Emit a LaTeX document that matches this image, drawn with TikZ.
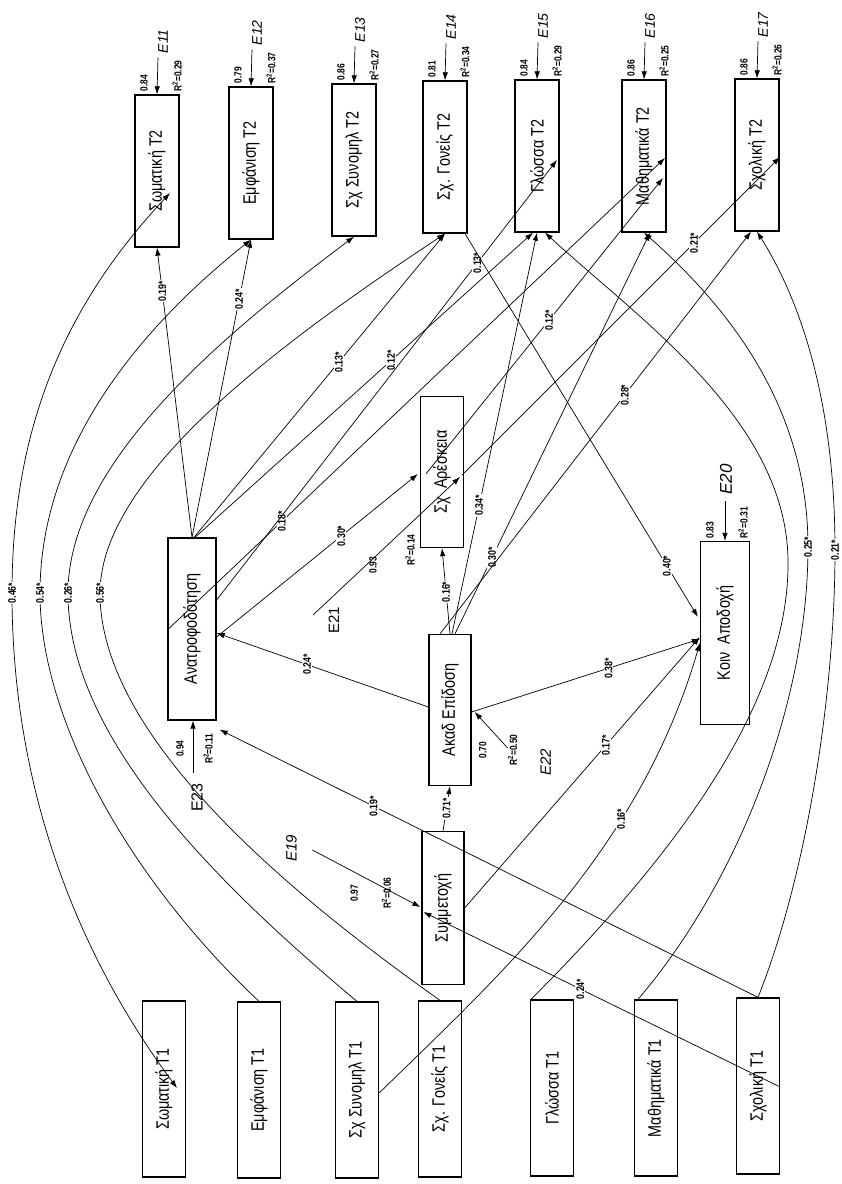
\documentclass[tikz,border=0pt]{standalone}
\usepackage{fontspec}
\setmainfont{Liberation Sans}
\newfontfamily\narrowsf[FakeStretch=0.8]{Liberation Sans}
\usetikzlibrary{arrows.meta,calc}
\newcommand{\vtext}[1]{\rotatebox{90}{\scalebox{0.8}[1]{#1}}}
\newcommand{\rsq}[1]{R\textsuperscript{2}=#1}
% blad nad pudelkiem T2: pudelko, nazwa, ladunek, R2
\newcommand{\errtop}[4]{%
  \coordinate (#1e) at ($(#1.north)+(1,-37)$);
  \draw[arr] (#1e) -- (#1.north);
  \node[errlbl,anchor=west] at ($(#1.north)+(6,-41)$) {#2};
  \node[errnote,anchor=west] at ($(#1.north)+(-13,-2)$) {#3};
  \node[errnote,anchor=west] at ($(#1.north)+(20,-2)$) {\rsq{#4}};}

\begin{document}
\begin{tikzpicture}[x=1pt,y=-1pt,
  varbox/.style={draw,line width=1.3pt,minimum width=44pt,minimum height=152pt,inner sep=0pt,font=\fontsize{18}{18}\selectfont},
  lowbox/.style={varbox,minimum width=43pt,minimum height=176pt},
  arr/.style={line width=0.7pt,-{Latex[length=8pt,width=5.5pt]}},
  arrboth/.style={line width=0.7pt,{Latex[length=8pt,width=5.5pt]}-{Latex[length=8pt,width=5.5pt]}},
  coefl/.style={rotate=90,fill=white,inner sep=1pt,font=\narrowsf\fontsize{11}{11}\selectfont\bfseries},
  errnote/.style={rotate=90,inner sep=0.5pt,font=\narrowsf\fontsize{10.5}{11}\selectfont\bfseries},
  errlbl/.style={rotate=90,inner sep=0pt,font=\fontsize{14}{14}\selectfont\itshape}]
\useasboundingbox (0,0) rectangle (842,1184);
% ---- T2 ----
\node[varbox] (somT2) at (157,171) {\vtext{Σωματική T2}};
\node[varbox] (emfT2) at (251,163) {\vtext{Εμφάνιση T2}};
\node[varbox] (synT2) at (354,160) {\vtext{Σχ Συνομηλ T2}};
\node[varbox] (gonT2) at (445,157) {\vtext{Σχ. Γονείς T2}};
\node[varbox] (glwT2) at (537,156) {\vtext{Γλώσσα T2}};
\node[varbox] (mthT2) at (644,156) {\vtext{Μαθηματικά T2}};
\node[varbox] (schT2) at (757,155) {\vtext{Σχολική T2}};
% ---- zmienne posrednie ----
\node[varbox,minimum width=48pt,minimum height=182pt] (anatr) at (192,629) {\vtext{Ανατροφοδότηση}};
\node[varbox,minimum width=43pt,minimum height=151pt] (aresk) at (442,472) {\vtext{Σχ\ \ Αρέσκεια}};
\node[varbox,minimum width=42pt,minimum height=151pt] (akad) at (450,710) {\vtext{Ακαδ Επίδοση}};
\node[varbox,minimum width=49pt,minimum height=183pt] (koin) at (725,633) {\vtext{Κοιν\ \ Αποδοχή}};
\node[varbox,minimum width=42pt,minimum height=153pt] (symm) at (443,908) {\vtext{Συμμετοχή}};
% ---- T1 ----
\node[lowbox] (somT1) at (164,1089) {\vtext{Σωματική T1}};
\node[lowbox] (emfT1) at (259,1090) {\vtext{Εμφάνιση T1}};
\node[lowbox] (synT1) at (357,1090) {\vtext{Σχ Συνομηλ T1}};
\node[lowbox] (gonT1) at (440,1089) {\vtext{Σχ. Γονείς T1}};
\node[lowbox] (glwT1) at (552,1088) {\vtext{Γλώσσα T1}};
\node[lowbox] (mthT1) at (656,1088) {\vtext{Μαθηματικά T1}};
\node[lowbox] (schT1) at (758,1086) {\vtext{Σχολική T1}};
% ---- bledy ----
\errtop{somT2}{E11}{0.84}{0.29}
\errtop{emfT2}{E12}{0.79}{0.37}
\errtop{synT2}{E13}{0.86}{0.27}
\errtop{gonT2}{E14}{0.81}{0.34}
\errtop{glwT2}{E15}{0.84}{0.29}
\errtop{mthT2}{E16}{0.86}{0.25}
\errtop{schT2}{E17}{0.86}{0.26}
\coordinate (e20s) at ($(koin.north)+(0,-40)$);
\draw[arr] (e20s) -- (koin.north);
\node[errlbl,anchor=west,font=\fontsize{17}{17}\selectfont\itshape] (e20) at ($(koin.north)+(1,-46)$) {E20};
\node[errnote,anchor=west] at ($(koin.north)+(-15,-2)$) {0.83};
\node[errnote,anchor=west] at ($(koin.north)+(18,-2)$) {\rsq{0.31}};
\coordinate (e23s) at ($(anatr.south)+(1,52)$);
\draw[arr] (e23s) -- ([xshift=1pt]anatr.south);
\node[errlbl,font=\fontsize{16}{16}\selectfont] (e23) at ($(anatr.south)+(5,77)$) {E23};
\node[errnote] at ($(anatr.south)+(-12,28)$) {0.94};
\node[errnote] at ($(anatr.south)+(16,28)$) {\rsq{0.11}};
\coordinate (e22s) at ($(akad.east)+(36,38)$);
\draw[arr] (e22s) -- ($(akad.east)+(3,2)$);
\node[errlbl,font=\fontsize{15}{15}\selectfont\itshape] (e22) at ($(akad.east)+(74,52)$) {E22};
\node[errnote] at ($(akad.east)+(11,40)$) {0.70};
\node[errnote] at ($(akad.east)+(41,40)$) {\rsq{0.50}};
\coordinate (e21s) at ($(aresk.center)+(-129,143)$);
\draw[arr] (e21s) -- ($(aresk.center)+(18,5)$);
\node[errlbl,font=\fontsize{15}{15}\selectfont] (e21) at ($(aresk.center)+(-108,148)$) {E21};
\node[errnote] at ($(aresk.center)+(-69,93)$) {0.93};
\node[errnote] at ($(aresk.center)+(-32,78)$) {\rsq{0.14}};
\coordinate (e19s) at ($(symm.west)+(-109,-58)$);
\draw[arr] (e19s) -- ($(symm.west)+(-1,-1)$);
\node[errlbl,font=\fontsize{15}{15}\selectfont\itshape] (e19) at ($(symm.west)+(-130,-60)$) {E19};
\node[errnote] at ($(symm.west)+(-67,-15)$) {0.97};
\node[errnote] at ($(symm.west)+(-35,-15)$) {\rsq{0.06}};
% ---- stabilnosc T1 -> T2 ----
\draw[arrboth] ($(somT1.center)+(13,-1)$) .. controls (60,930) and (12,760) .. (12,593) node[coefl]{0.46*}
  .. controls (12,420) and (70,300) .. ($(somT2.center)+(13,22)$);
\draw[arr] (emfT1.north) .. controls (130,880) and (40,720) .. (40,593) node[coefl]{0.54*}
  .. controls (40,440) and (150,320) .. (emfT2.south);
\draw[arr] (synT1.north) .. controls (200,870) and (68,730) .. (68,593) node[coefl]{0.26*}
  .. controls (68,460) and (230,330) .. (synT2.south);
\draw[arr] (gonT1.north) .. controls (270,880) and (100,730) .. (100,593) node[coefl]{0.56*}
  .. controls (100,470) and (300,330) .. (gonT2.south);
\draw[arr] ([xshift=-21pt]glwT1.north) .. controls (680,850) and (790,700) .. (788,560)
  .. controls (786,420) and (640,320) .. ([xshift=8pt]glwT2.south);
\draw[arr] ([xshift=-18pt]mthT1.north) .. controls (740,880) and (808,700) .. (808,547) node[coefl]{0.25*}
  .. controls (808,400) and (720,300) .. (mthT2.south);
\draw[arr] (schT1.north) .. controls (805,880) and (835,700) .. (835,550) node[coefl]{0.21*}
  .. controls (835,400) and (800,300) .. (schT2.south);
% ---- sciezki z Ανατροφοδότηση ----
\draw[arr] (anatr.north) -- node[coefl,pos=0.85]{0.19*} (somT2.south);
\draw[arr] (anatr.north) -- node[coefl,pos=0.80]{0.24*} (emfT2.south);
\draw[arr] ([xshift=2pt]anatr.north) -- node[coefl,pos=0.577]{0.13*} (gonT2.south);
\draw[arr] ([xshift=3pt]anatr.north) -- node[coefl,pos=0.58]{0.12*} ([xshift=-4pt]glwT2.south);
\draw[arr] ([yshift=-8pt]anatr.east) -- node[coefl,pos=0.62]{0.30*} ($(aresk.west)+(-2,2)$);
\draw[arr] ($(anatr.west)+(0,1)$) -- node[coefl,pos=0.23]{0.18*} ($(mthT2.center)+(21,2)$);
\draw[arr] ([yshift=29pt]anatr.east) -- node[coefl,pos=0.766]{0.13*} ($(glwT2.center)+(20,4)$);
% ---- sciezki z Σχ Αρέσκεια ----
\draw[arr] ($(aresk.west)+(6,2)$) -- node[coefl,pos=0.52]{0.12*} ($(mthT2.center)+(19,22)$);
\draw[arr] ($(aresk.center)+(20,3)$) -- node[coefl,pos=0.73]{0.21*} ($(schT2.center)+(23,2)$);
% ---- sciezki z Ακαδ Επίδοση ----
\draw[arr] (symm.north) -- node[coefl,pos=0.5]{0.71*} (akad.south);
\draw[arr] ([yshift=3pt]akad.west) -- node[coefl,pos=0.573]{0.24*} ([yshift=-4pt]anatr.east);
\draw[arr] ([yshift=-2pt]akad.east) -- node[coefl,pos=0.6]{0.38*} ([yshift=-6pt]koin.west);
\draw[arr] (akad.north) -- node[coefl,pos=0.49]{0.16*} (aresk.south);
\draw[arr] ([xshift=2pt]akad.north) -- node[coefl,pos=0.32]{0.34*} (glwT2.south);
\draw[arr] ([xshift=5pt]akad.north) -- node[coefl,pos=0.19]{0.30*} ([xshift=6pt]mthT2.south);
\draw[arr] ([xshift=-10pt]akad.north) -- node[coefl,pos=0.594]{0.28*} ([xshift=-6pt]schT2.south);
% ---- do Κοιν Αποδοχή ----
\draw[arr] (symm.east) -- node[coefl,pos=0.6]{0.17*} ([yshift=-4pt]koin.west);
\draw[arr] ([yshift=-3pt]synT1.east) .. controls (500,975) and (640,850) .. node[coefl,pos=0.68]{0.16*} ([yshift=-10pt]koin.west);
\draw[arr] ([xshift=20pt]gonT2.south) -- node[coefl,pos=0.867]{0.40*} ($(koin.north west)+(-2,76)$);
% ---- z Σχολική T1 ----
\draw[arr] ([yshift=-1pt]schT1.east) -- node[coefl,pos=0.56]{0.24*} ($(symm.west)+(2,4)$);
\draw[arr] (schT1.north) -- node[coefl,pos=0.714]{0.19*} ($(anatr.south east)+(3,9)$);
\end{tikzpicture}
\end{document}
